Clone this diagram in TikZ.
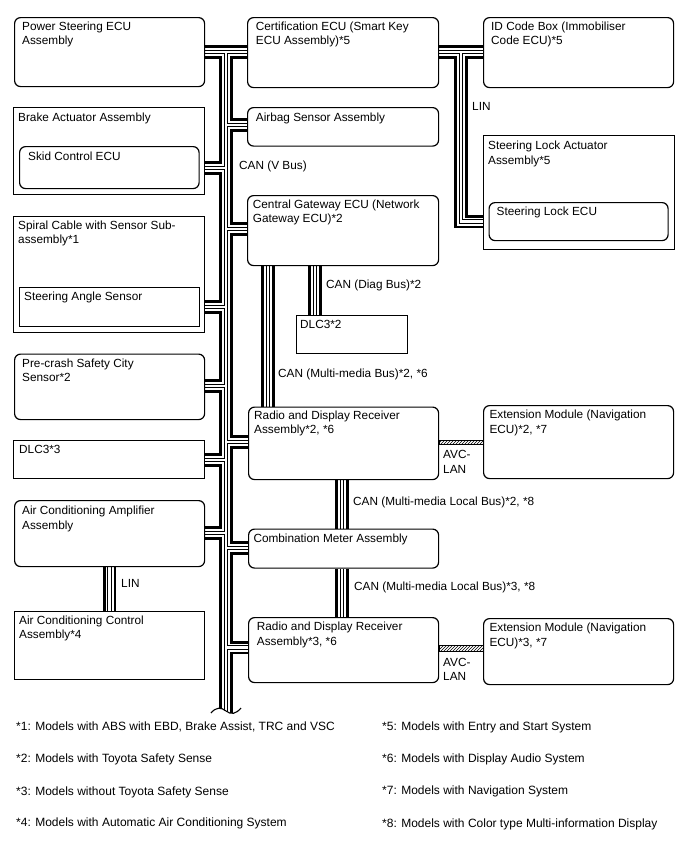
\documentclass[tikz,border=0pt]{standalone}
\usepackage{fontspec}
\setmainfont{Liberation Sans}
\usetikzlibrary{patterns}
\pgfdeclarelayer{bg}
\pgfsetlayers{bg,main}
\tikzset{
  box/.style={draw, line width=1.2pt, fill=white, inner sep=0pt, anchor=north west},
  rbox/.style={box, rounded corners=6pt},
  txt/.style={inner sep=0pt, anchor=north west, align=left, font=\fontsize{11.8}{14.3}\selectfont},
  lbl/.style={inner sep=0pt, anchor=west, align=left, font=\fontsize{11.8}{14.3}\selectfont},
  foot/.style={inner sep=0pt, anchor=west, font=\fontsize{12}{14}\selectfont},
  busA/.style={line width=13.5pt, black},
  busB/.style={line width=8pt, white},
  busC/.style={line width=4.5pt, black},
  busD/.style={line width=2.2pt, white},
  avc/.style={line width=0.8pt, pattern=north east lines},
}
\begin{document}
\begin{tikzpicture}[x=1pt, y=-1pt]
\useasboundingbox (0,0) rectangle (688,852);
\begin{pgfonlayer}{bg}
\fill[white] (0,0) rectangle (688,852);
\end{pgfonlayer}

% ---------- left column ----------
\node[rbox, minimum width=190pt, minimum height=69pt] (ps) at (14,17) {};
\node[txt] (pst) at ([xshift=8pt,yshift=-4.7pt]ps.north west) {Power Steering ECU\\Assembly};

\node[box, minimum width=191pt, minimum height=87pt] (brake) at (13,107) {};
\node[txt] (braket) at ([xshift=5pt,yshift=-5.7pt]brake.north west) {Brake Actuator Assembly};
\node[rbox, minimum width=179.5pt, minimum height=42pt] (skid) at (19,146) {};
\node[txt] (skidt) at ([xshift=9pt,yshift=-5.7pt]skid.north west) {Skid Control ECU};

\node[box, minimum width=191pt, minimum height=115.5pt] (spiral) at (13,216) {};
\node[txt] (spiralt) at ([xshift=5pt,yshift=-4.7pt]spiral.north west) {Spiral Cable with Sensor Sub-\\assembly*1};
\node[box, minimum width=179.5pt, minimum height=39pt] (sas) at (19,287) {};
\node[txt] (sast) at ([xshift=5pt,yshift=-4.3pt]sas.north west) {Steering Angle Sensor};

\node[rbox, minimum width=190pt, minimum height=65.5pt] (pcs) at (14,353.5) {};
\node[txt] (pcst) at ([xshift=8pt,yshift=-5pt]pcs.north west) {Pre-crash Safety City\\Sensor*2};

\node[box, minimum width=191pt, minimum height=38pt] (dlcA) at (13,440) {};
\node[txt] (dlcAt) at ([xshift=6pt,yshift=-5pt]dlcA.north west) {DLC3*3};

\node[rbox, minimum width=190pt, minimum height=66pt] (acamp) at (14,500) {};
\node[txt] (acampt) at ([xshift=8pt,yshift=-6pt]acamp.north west) {Air Conditioning Amplifier\\Assembly};

\node[box, minimum width=190pt, minimum height=68.3pt] (acctl) at (14,610.7) {};
\node[txt] (acctlt) at ([xshift=5pt,yshift=-5pt]acctl.north west) {Air Conditioning Control\\Assembly*4};

% ---------- middle column ----------
\node[rbox, minimum width=191pt, minimum height=70pt] (cert) at (247,17) {};
\node[txt] (certt) at ([xshift=8.7pt,yshift=-4.7pt]cert.north west) {Certification ECU (Smart Key\\ECU Assembly)*5};

\node[rbox, minimum width=191pt, minimum height=38.5pt] (airbag) at (247,107) {};
\node[txt] (airbagt) at ([xshift=8.7pt,yshift=-5.3pt]airbag.north west) {Airbag Sensor Assembly};

\node[rbox, minimum width=191pt, minimum height=70pt] (cg) at (247,195) {};
\node[txt] (cgt) at ([xshift=5.7pt,yshift=-4.3pt]cg.north west) {Central Gateway ECU (Network\\Gateway ECU)*2};

\node[box, minimum width=111pt, minimum height=38pt] (dlcB) at (296,315) {};
\node[txt] (dlcBt) at ([xshift=4pt,yshift=-5pt]dlcB.north west) {DLC3*2};

\node[rbox, minimum width=190pt, minimum height=72.5pt] (radioA) at (248,406.5) {};
\node[txt] (radioAt) at ([xshift=6pt,yshift=-4.3pt]radioA.north west) {Radio and Display Receiver\\Assembly*2, *6};

\node[rbox, minimum width=190pt, minimum height=39pt] (comb) at (248,528.5) {};
\node[txt] (combt) at ([xshift=5.3pt,yshift=-5pt]comb.north west) {Combination Meter Assembly};

\node[rbox, minimum width=190pt, minimum height=65pt] (radioB) at (248,617) {};
\node[txt] (radioBt) at ([xshift=8.7pt,yshift=-5pt]radioB.north west) {Radio and Display Receiver\\Assembly*3, *6};

% ---------- right column ----------
\node[rbox, minimum width=190pt, minimum height=70pt] (idbox) at (483,17) {};
\node[txt] (idboxt) at ([xshift=8pt,yshift=-4.7pt]idbox.north west) {ID Code Box (Immobiliser\\Code ECU)*5};

\node[box, minimum width=191pt, minimum height=114pt] (sla) at (483,135) {};
\node[txt] (slat) at ([xshift=5pt,yshift=-6pt]sla.north west) {Steering Lock Actuator\\Assembly*5};
\node[rbox, minimum width=179pt, minimum height=38pt] (slecu) at (488.5,202) {};
\node[txt] (slecut) at ([xshift=8pt,yshift=-5pt]slecu.north west) {Steering Lock ECU};

\node[rbox, minimum width=190pt, minimum height=73pt] (extA) at (483,405) {};
\node[txt] (extAt) at ([xshift=6.3pt,yshift=-5pt]extA.north west) {Extension Module (Navigation\\ECU)*2, *7};

\node[rbox, minimum width=190pt, minimum height=66pt] (extB) at (483,618) {};
\node[txt] (extBt) at ([xshift=6.3pt,yshift=-5pt]extB.north west) {Extension Module (Navigation\\ECU)*3, *7};

% ---------- junction coordinates ----------
\coordinate (j0) at (226,52);
\coordinate (tb) at (226,716);
\coordinate (jL1) at (226,168);
\coordinate (jL2) at (226,307);
\coordinate (jL3) at (226,386);
\coordinate (jL4) at (226,460);
\coordinate (jL5) at (226,533);
\coordinate (jR1) at (226,125);
\coordinate (jR2) at (226,229);
\coordinate (jR3) at (226,442);
\coordinate (jR4) at (226,548);
\coordinate (jR5) at (226,647.5);
\coordinate (k0) at (461,52);
\coordinate (k1) at (461,221.5);

% ---------- buses ----------
\begin{pgfonlayer}{bg}
\foreach \s in {busA,busB,busC,busD}{
  \draw[\s] (ps.east |- j0) -- (cert.west |- j0);
  \draw[\s] (j0) -- (tb);
  \draw[\s] (jL1) -- (brake.east |- jL1);
  \draw[\s] (jL2) -- (spiral.east |- jL2);
  \draw[\s] (jL3) -- (pcs.east |- jL3);
  \draw[\s] (jL4) -- (dlcA.east |- jL4);
  \draw[\s] (jL5) -- (acamp.east |- jL5);
  \draw[\s] (jR1) -- (airbag.west |- jR1);
  \draw[\s] (jR2) -- (cg.west |- jR2);
  \draw[\s] (jR3) -- (radioA.west |- jR3);
  \draw[\s] (jR4) -- (comb.west |- jR4);
  \draw[\s] (jR5) -- (radioB.west |- jR5);
  \draw[\s] (cert.east |- k0) -- (idbox.west |- k0);
  \draw[\s] (k0) -- (k1) -- (sla.west |- k1);
  \draw[\s] ([xshift=68pt]cg.south west) -- ([xshift=19pt]dlcB.north west);
  \draw[\s] ([xshift=21pt]cg.south west) -- ([xshift=20pt]radioA.north west);
  \draw[\s] ([xshift=94pt]radioA.south west) -- ([xshift=94pt]comb.north west);
  \draw[\s] ([xshift=94pt]comb.south west) -- ([xshift=94pt]radioB.north west);
  \draw[\s] ([xshift=95.5pt]acamp.south west) -- ([xshift=95.5pt]acctl.north west);
}
\draw[avc] ([yshift=-33.5pt]radioA.north east) rectangle ([yshift=-39.5pt]extA.north west);
\draw[avc] ([yshift=-28.7pt]radioB.north east) rectangle ([yshift=-33.7pt]extB.north west);
\end{pgfonlayer}

% ---------- trunk end ----------
\fill[white] (211,713) .. controls (216,707) and (221,707) .. (226,711) .. controls (231,715) and (236,714) .. (241,708) -- (241,724) -- (211,724) -- cycle;
\draw[line width=1.1pt] (211,713) .. controls (216,707) and (221,707) .. (226,711) .. controls (231,715) and (236,714) .. (241,708);

% ---------- bus labels ----------
\node[lbl] (linA) at (472,106) {LIN};
\node[lbl] (vbus) at (239,166) {CAN (V Bus)};
\node[lbl] (diag) at (326,285) {CAN (Diag Bus)*2};
\node[lbl] (mmbus) at (278,374) {CAN (Multi-media Bus)*2, *6};
\node[lbl] (avcA) at (443,462) {AVC-\\LAN};
\node[lbl] (mlA) at (353,502) {CAN (Multi-media Local Bus)*2, *8};
\node[lbl] (linB) at (121,583) {LIN};
\node[lbl] (mlB) at (354,587) {CAN (Multi-media Local Bus)*3, *8};
\node[lbl] (avcB) at (443,669.5) {AVC-\\LAN};

% ---------- footnotes ----------
\node[foot] (f1) at (16,727) {*1: Models with ABS with EBD, Brake Assist, TRC and VSC};
\node[foot] (f2) at (16,759) {*2: Models with Toyota Safety Sense};
\node[foot] (f3) at (16,792) {*3: Models without Toyota Safety Sense};
\node[foot] (f4) at (16,823) {*4: Models with Automatic Air Conditioning System};
\node[foot] (f5) at (382,727) {*5: Models with Entry and Start System};
\node[foot] (f6) at (382,759) {*6: Models with Display Audio System};
\node[foot] (f7) at (382,791) {*7: Models with Navigation System};
\node[foot] (f8) at (382,824) {*8: Models with Color type Multi-information Display};
\end{tikzpicture}
\end{document}
